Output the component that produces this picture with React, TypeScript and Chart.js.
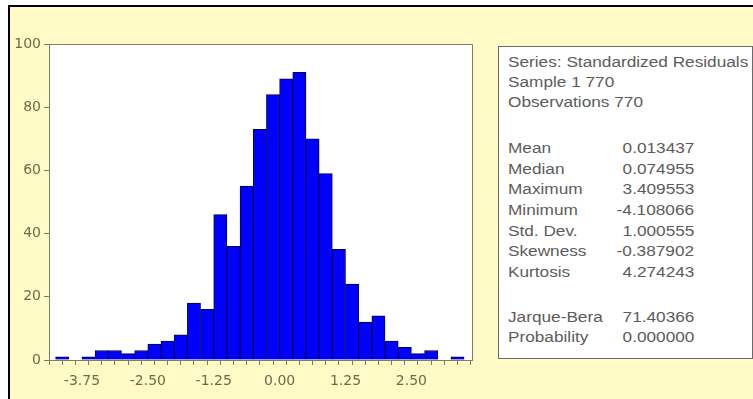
import React, { useEffect, useRef } from 'react';
import { Chart, registerables } from 'chart.js';

Chart.register(...registerables);

// ---- data ----
const binCenters = [
  -4.125, -3.875, -3.625, -3.375, -3.125, -2.875, -2.625, -2.375, -2.125, -1.875,
  -1.625, -1.375, -1.125, -0.875, -0.625, -0.375, -0.125, 0.125, 0.375, 0.625,
  0.875, 1.125, 1.375, 1.625, 1.875, 2.125, 2.375, 2.625, 2.875, 3.125, 3.375,
];
const counts = [
  1, 0, 1, 3, 3, 2, 3, 5, 6, 8,
  18, 16, 46, 36, 55, 73, 84, 89, 91, 70,
  59, 35, 24, 12, 14, 6, 4, 2, 3, 0, 1,
];
const xLabelTicks = [-3.75, -2.5, -1.25, 0, 1.25, 2.5];
const yTickStep = 20;
const headerLines = ['Series: Standardized Residuals', 'Sample 1 770', 'Observations 770'];
const statLabels = ['Mean', 'Median', 'Maximum', 'Minimum', 'Std. Dev.', 'Skewness', 'Kurtosis'];
const statValues = ['0.013437', '0.074955', '3.409553', '-4.108066', '1.000555', '-0.387902', '4.274243'];
const testLabels = ['Jarque-Bera', 'Probability'];
const testValues = ['71.40366', '0.000000'];

const AXIS = '#7d7d62';
const LABEL = '#6c6c4c';
const TEXT = '#5c5c5c';

function Txt(props: { x: number; y: number; text: string; align: 'left' | 'right' }) {
  const { x, y, text, align } = props;
  const style: React.CSSProperties = {
    position: 'absolute',
    top: y - 9,
    font: '14px "Liberation Sans", Arial, sans-serif',
    lineHeight: '18px',
    color: TEXT,
    whiteSpace: 'nowrap',
    transform: 'scaleX(1.23)',
    transformOrigin: align === 'left' ? 'left center' : 'right center',
  };
  if (align === 'left') style.left = x;
  else style.right = 753 - x;
  return <div style={style}>{text}</div>;
}

export default function App() {
  const ref = useRef<HTMLCanvasElement>(null);

  useEffect(() => {
    document.body.style.margin = '0';
    const canvas = ref.current!;
    const framePlugin = {
      id: 'plotFrame',
      beforeDraw(chart: any) {
        const { ctx, chartArea: a } = chart;
        ctx.save();
        ctx.fillStyle = '#ffffff';
        ctx.fillRect(a.left, a.top, a.right - a.left, a.bottom - a.top);
        ctx.restore();
      },
      afterDraw(chart: any) {
        const { ctx, chartArea: a } = chart;
        ctx.save();
        ctx.strokeStyle = AXIS;
        ctx.lineWidth = 1;
        ctx.beginPath();
        ctx.moveTo(a.left, Math.round(a.top) + 0.5);
        ctx.lineTo(Math.round(a.right) + 0.5, Math.round(a.top) + 0.5);
        ctx.lineTo(Math.round(a.right) + 0.5, a.bottom);
        ctx.stroke();
        ctx.restore();
      },
    };

    const chart = new Chart(canvas, {
      type: 'bar',
      data: {
        datasets: [
          {
            data: binCenters.map((x, i) => ({ x, y: counts[i] })) as any,
            backgroundColor: '#0000ff',
            borderColor: '#000050',
            borderWidth: 1,
            barPercentage: 1,
            categoryPercentage: 1,
            borderSkipped: 'start',
          },
        ],
      },
      options: {
        animation: false,
        responsive: false,
        maintainAspectRatio: false,
        layout: { padding: { left: 0, top: 44, right: 281, bottom: 0 } },
        plugins: { legend: { display: false }, tooltip: { enabled: false } },
        scales: {
          x: {
            type: 'linear',
            min: -4.375,
            max: 3.65,
            offset: false,
            grid: { display: true, drawOnChartArea: false, drawTicks: true, tickLength: 5, color: AXIS },
            border: { display: true, color: AXIS, width: 1 },
            ticks: {
              stepSize: 0.25,
              autoSkip: false,
              maxRotation: 0,
              includeBounds: false,
              padding: 8,
              color: LABEL,
              font: { family: '"DejaVu Sans", sans-serif', size: 14 },
              callback: (v: any) => {
                const n = Number(v);
                return xLabelTicks.some((t) => Math.abs(t - n) < 1e-6) ? n.toFixed(2) : '';
              },
            },
            afterFit: (s: any) => {
              s.height = 39;
            },
          },
          y: {
            min: 0,
            max: 100,
            grid: { display: true, drawOnChartArea: false, drawTicks: true, tickLength: 5, color: AXIS },
            border: { display: true, color: AXIS, width: 1 },
            ticks: {
              stepSize: yTickStep,
              padding: 3,
              color: LABEL,
              font: { family: '"DejaVu Sans", sans-serif', size: 14 },
            },
            afterFit: (s: any) => {
              s.width = 49;
            },
          },
        },
      },
      plugins: [framePlugin],
    });
    return () => chart.destroy();
  }, []);

  const statRowY = [148, 168.7, 189.3, 210, 230.7, 251.3, 272];
  const headerY = [62, 82, 102];
  const testY = [317, 337];

  return (
    <div style={{ position: 'relative', width: 753, height: 399, background: '#ffffff', overflow: 'hidden' }}>
      <div
        style={{
          position: 'absolute',
          left: 8,
          top: 5,
          width: 760,
          height: 410,
          boxSizing: 'border-box',
          borderTop: '2px solid #000',
          borderLeft: '2px solid #000',
          background: '#fffac6',
        }}
      />
      <canvas
        ref={ref}
        width={753}
        height={399}
        style={{ position: 'absolute', left: 0, top: 0, width: 753, height: 399 }}
      />
      <div
        style={{
          position: 'absolute',
          left: 498,
          top: 46,
          width: 255,
          height: 313,
          boxSizing: 'border-box',
          border: '1px solid #6a6a6a',
          background: '#ffffff',
        }}
      />
      {headerLines.map((t, i) => (
        <Txt key={'h' + i} x={508} y={headerY[i]} text={t} align="left" />
      ))}
      {statLabels.map((t, i) => (
        <Txt key={'l' + i} x={508} y={statRowY[i]} text={t} align="left" />
      ))}
      {statValues.map((t, i) => (
        <Txt key={'v' + i} x={694} y={statRowY[i]} text={t} align="right" />
      ))}
      {testLabels.map((t, i) => (
        <Txt key={'tl' + i} x={508} y={testY[i]} text={t} align="left" />
      ))}
      {testValues.map((t, i) => (
        <Txt key={'tv' + i} x={694} y={testY[i]} text={t} align="right" />
      ))}
    </div>
  );
}
